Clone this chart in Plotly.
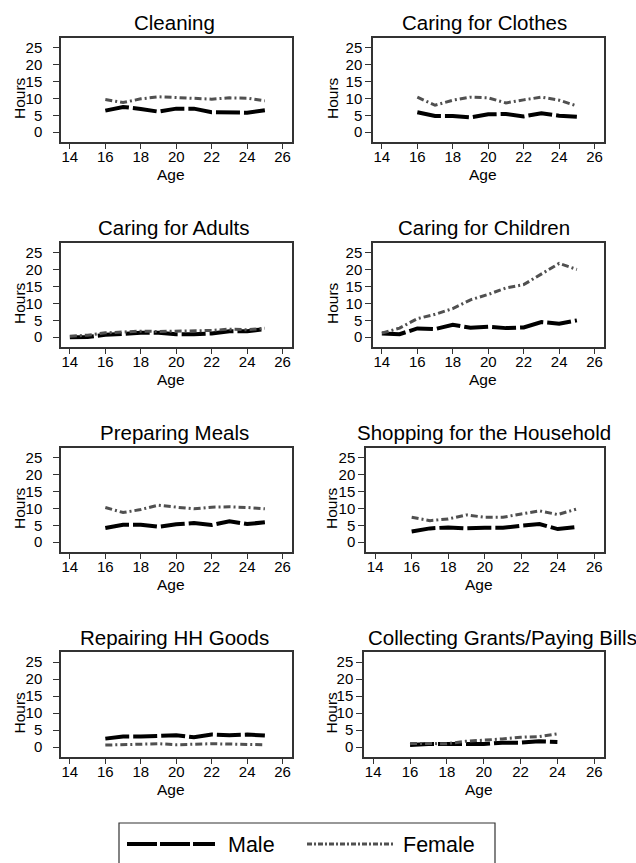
import plotly.graph_objects as go

W, H = 636, 863

# ---------------- data ----------------
ages_14_25 = list(range(14, 26))
ages_16_25 = list(range(16, 26))
ages_16_24 = list(range(16, 25))

panel_titles = ["Cleaning", "Caring for Clothes", "Caring for Adults", "Caring for Children",
                "Preparing Meals", "Shopping for the Household", "Repairing HH Goods",
                "Collecting Grants/Paying Bills"]

cleaning_male = [6.4, 7.5, 6.9, 6.1, 7.0, 7.0, 5.9, 5.9, 5.8, 6.5]
cleaning_female = [9.7, 8.8, 9.9, 10.5, 10.3, 10.1, 9.8, 10.2, 10.1, 9.3]
clothes_male = [5.9, 4.8, 4.8, 4.4, 5.3, 5.4, 4.7, 5.6, 4.9, 4.6]
clothes_female = [10.4, 8.0, 9.5, 10.4, 10.2, 8.7, 9.6, 10.4, 9.5, 7.8]
adults_male = [0.0, 0.1, 0.7, 1.1, 1.3, 1.3, 0.9, 0.9, 1.1, 1.8, 1.8, 2.4]
adults_female = [0.3, 0.6, 1.3, 1.5, 1.8, 1.7, 1.8, 1.8, 2.0, 2.4, 2.2, 2.7]
children_male = [1.1, 0.9, 2.6, 2.4, 3.7, 2.8, 3.1, 2.7, 2.9, 4.5, 4.0, 5.0]
children_female = [1.2, 2.7, 5.5, 6.8, 8.5, 11.1, 12.7, 14.6, 15.6, 18.8, 21.9, 20.1]
meals_male = [4.2, 5.2, 5.2, 4.6, 5.3, 5.7, 5.1, 6.2, 5.4, 5.9]
meals_female = [10.3, 8.8, 9.7, 11.0, 10.4, 9.9, 10.4, 10.5, 10.3, 9.9]
shopping_male = [3.2, 4.1, 4.4, 4.1, 4.3, 4.3, 4.9, 5.4, 3.9, 4.5]
shopping_female = [7.4, 6.4, 6.9, 8.1, 7.4, 7.4, 8.4, 9.3, 8.2, 9.8]
repair_male = [2.5, 3.1, 3.1, 3.4, 3.5, 2.9, 3.7, 3.5, 3.7, 3.4]
repair_female = [0.6, 0.7, 0.9, 1.0, 0.7, 0.9, 1.0, 0.9, 0.9, 0.7]
bills_male = [0.6, 0.9, 0.9, 1.0, 0.9, 1.3, 1.3, 1.7, 1.5]
bills_female = [1.1, 1.1, 1.0, 1.7, 2.0, 2.4, 2.9, 3.1, 3.9]

x_ticks = [14, 16, 18, 20, 22, 24, 26]
y_ticks = [0, 5, 10, 15, 20, 25]
series_names = ["Male", "Female"]

panels = [
    (ages_16_25, cleaning_male, cleaning_female),
    (ages_16_25, clothes_male, clothes_female),
    (ages_14_25, adults_male, adults_female),
    (ages_14_25, children_male, children_female),
    (ages_16_25, meals_male, meals_female),
    (ages_16_25, shopping_male, shopping_female),
    (ages_16_25, repair_male, repair_female),
    (ages_16_24, bills_male, bills_female),
]

# ---------------- layout geometry (pixels) ----------------
# (left, right, top, bottom)
boxes = [
    (61, 292, 38, 142), (373, 604, 38, 142),
    (61, 292, 243, 347), (373, 604, 243, 347),
    (61, 292, 448, 552), (366, 604, 448, 552),
    (61, 292, 652, 757), (364, 604, 652, 757),
]
title_pos = [(174, 23), (484, 23), (174, 227), (484, 227),
             (174, 432), (484, 432), (174, 637), (366, 637)]
hours_x = [19, 332, 19, 332, 19, 331, 19, 331]
age_pos = [(171, 174), (483, 174), (171, 379), (483, 379),
           (171, 584), (479, 584), (171, 789), (479, 789)]

FONT = "Liberation Sans, Arial, sans-serif"
MALE_STYLE = dict(color="black", width=4, dash="24px,4px")
FEMALE_STYLE = dict(color="#505050", width=3, dash="7px,3px,2px,3px")


def px_x(p):
    return p / W


def px_y(p):
    return 1 - p / H


fig = go.Figure()
annotations = []
shapes = []

for i, (ages, male, female) in enumerate(panels):
    n = i + 1
    xa = "x" if n == 1 else f"x{n}"
    ya = "y" if n == 1 else f"y{n}"
    fig.add_trace(go.Scatter(x=ages, y=male, mode="lines", name=series_names[0],
                             line=MALE_STYLE, xaxis=xa, yaxis=ya, showlegend=False))
    fig.add_trace(go.Scatter(x=ages, y=female, mode="lines", name=series_names[1],
                             line=FEMALE_STYLE, xaxis=xa, yaxis=ya, showlegend=False))
    l, r, t, b = boxes[i]
    col1 = (i % 2 == 0)
    axis_common = dict(showline=True, mirror=True, linecolor="#333333", linewidth=1.5,
                       ticks="outside", tickwidth=1.2, tickcolor="#333333",
                       showgrid=False, zeroline=False,
                       tickfont=dict(family=FONT, size=15, color="black"))
    fig.layout[f"xaxis{'' if n == 1 else n}"] = dict(
        domain=[px_x(l), px_x(r)], range=[13.5, 26.53], tickvals=x_ticks,
        anchor=ya, ticklen=5, ticklabelstandoff=-5, **axis_common)
    fig.layout[f"yaxis{'' if n == 1 else n}"] = dict(
        domain=[px_y(b), px_y(t)], range=[-2.9, 27.95], tickvals=y_ticks,
        anchor=xa, ticklen=6, ticklabelstandoff=8 if col1 else 0, **axis_common)

    tx, ty = title_pos[i]
    annotations.append(dict(text=panel_titles[i], x=px_x(tx), y=px_y(ty), xref="paper", yref="paper",
                            xanchor="left" if i == 7 else "center", yanchor="middle", showarrow=False,
                            font=dict(family=FONT, size=20.5, color="black")))
    annotations.append(dict(text="Hours", x=px_x(hours_x[i]), y=px_y((t + b) / 2 + 8), xref="paper",
                            yref="paper", xanchor="center", yanchor="middle", textangle=-90,
                            showarrow=False, font=dict(family=FONT, size=15.5, color="black")))
    ax_, ay_ = age_pos[i]
    annotations.append(dict(text="Age", x=px_x(ax_), y=px_y(ay_), xref="paper", yref="paper",
                            xanchor="center", yanchor="middle", showarrow=False,
                            font=dict(family=FONT, size=15.5, color="black")))

# ---------------- legend (drawn manually) ----------------
shapes.append(dict(type="rect", xref="paper", yref="paper", x0=px_x(119), x1=px_x(495),
                   y0=px_y(875), y1=px_y(823), line=dict(color="#333333", width=1.2),
                   fillcolor="rgba(0,0,0,0)"))
shapes.append(dict(type="line", xref="paper", yref="paper", x0=px_x(127), x1=px_x(215),
                   y0=px_y(844), y1=px_y(844), line=dict(color="black", width=4, dash="30px,3px")))
shapes.append(dict(type="line", xref="paper", yref="paper", x0=px_x(307), x1=px_x(395),
                   y0=px_y(844), y1=px_y(844), line=dict(color="#505050", width=3, dash="5px,2px,2px,2px")))
annotations.append(dict(text=series_names[0], x=px_x(226), y=px_y(845), xref="paper", yref="paper",
                        xanchor="left", yanchor="middle", showarrow=False,
                        font=dict(family=FONT, size=21.5, color="black")))
annotations.append(dict(text=series_names[1], x=px_x(401), y=px_y(845), xref="paper", yref="paper",
                        xanchor="left", yanchor="middle", showarrow=False,
                        font=dict(family=FONT, size=21.5, color="black")))

fig.update_layout(width=W, height=H, margin=dict(l=0, r=0, t=0, b=0),
                  paper_bgcolor="white", plot_bgcolor="white",
                  annotations=annotations, shapes=shapes, showlegend=False)

fig.write_html("out.html", config={"displayModeBar": False},
               post_script="document.body.style.margin='0px';document.body.style.padding='0px';"
                           "document.body.style.overflow='hidden';")
